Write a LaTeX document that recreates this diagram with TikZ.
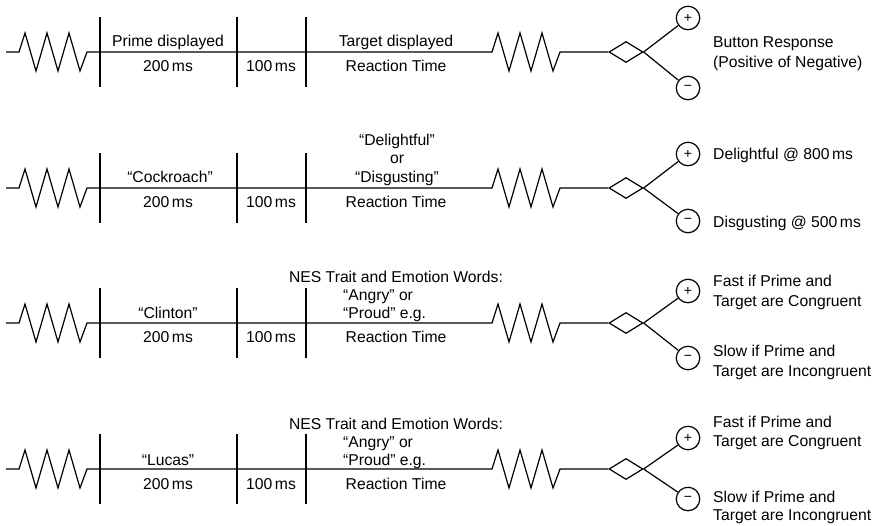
\documentclass[tikz,border=0pt]{standalone}
\usepackage{fontspec}
\setmainfont{Liberation Sans}
\usetikzlibrary{shapes.geometric}
\tikzset{
 ln/.style={line width=1.2pt, line join=miter},
 lbl/.style={font=\fontsize{15.7}{19}\selectfont, inner sep=0pt, anchor=base},
 rlbl/.style={lbl, anchor=base west},
 dia/.style={diamond, draw, line width=1.2pt, minimum width=34pt, minimum height=21pt, inner sep=0pt},
 sgn/.style={circle, draw, line width=1.2pt, minimum size=23.5pt, inner sep=0pt, font=\fontsize{14}{14}\selectfont},
}
\newcommand\tlrow[4]{%
\begin{scope}[shift={(0,#2)}]
\coordinate (#1s) at (6,0);
\coordinate (#1za) at (19,0);
\coordinate (#1zb) at (87,0);
\coordinate (#1zc) at (492,0);
\coordinate (#1zd) at (560,0);
\coordinate (#1at) at (100,-35); \coordinate (#1ab) at (100,35);
\coordinate (#1bt) at (237,-35); \coordinate (#1bb) at (237,35);
\coordinate (#1ct) at (306,-35); \coordinate (#1cb) at (306,35);
\node[dia] (#1d) at (626,0) {};
\node[sgn] (#1p) at (688,#3) {+};
\node[sgn] (#1m) at (688,#4) {−};
\draw[ln] (#1s) -- (#1za) -- ++(6,-19) -- ++(11,38) -- ++(11,-38) -- ++(11,38) -- ++(11,-38) -- ++(11,38) -- (#1zb)
  -- (#1zc) -- ++(6,-19) -- ++(11,38) -- ++(11,-38) -- ++(11,38) -- ++(11,-38) -- ++(11,38) -- (#1zd) -- (#1d.west);
\draw[ln] (#1at) -- (#1ab);
\draw[ln] (#1bt) -- (#1bb);
\draw[ln] (#1ct) -- (#1cb);
\draw[ln] (#1d.east) -- (#1p);
\draw[ln] (#1d.east) -- (#1m);
\end{scope}}
\begin{document}
\begin{tikzpicture}[x=1pt,y=-1pt]
\useasboundingbox (0,0) rectangle (882,525);
\tlrow{r1}{52}{-34}{36}
\tlrow{r2}{188}{-34}{33}
\tlrow{r3}{323}{-32}{35}
\tlrow{r4}{469}{-31}{30}
% row 1
\node[lbl] (l1a) at (168,46) {Prime displayed};
\node[lbl] (l1b) at (168,71) {200\,ms};
\node[lbl] (l1c) at (271,71) {100\,ms};
\node[lbl] (l1d) at (396,46) {Target displayed};
\node[lbl] (l1e) at (396,71) {Reaction Time};
\node[rlbl] (l1f) at (713,47) {Button Response};
\node[rlbl] (l1g) at (713,67) {(Positive of Negative)};
% row 2
\node[lbl] (l2a) at (170,182) {“Cockroach”};
\node[lbl] (l2b) at (168,207) {200\,ms};
\node[lbl] (l2c) at (271,207) {100\,ms};
\node[lbl] (l2d) at (397,145) {“Delightful”};
\node[lbl] (l2e) at (397,163.5) {or};
\node[lbl] (l2f) at (397,182) {“Disgusting”};
\node[lbl] (l2g) at (396,207) {Reaction Time};
\node[rlbl] (l2h) at (713,159) {Delightful @ 800\,ms};
\node[rlbl] (l2i) at (713,227) {Disgusting @ 500\,ms};
% row 3
\node[lbl] (l3a) at (168,318) {“Clinton”};
\node[lbl] (l3b) at (168,342) {200\,ms};
\node[lbl] (l3c) at (271,342) {100\,ms};
\node[lbl] (l3d) at (396,282.5) {NES Trait and Emotion Words:};
\node[rlbl] (l3e) at (343,300.5) {“Angry” or};
\node[rlbl] (l3f) at (343,318.5) {“Proud” e.g.};
\node[lbl] (l3g) at (396,342) {Reaction Time};
\node[rlbl] (l3h) at (713,286) {Fast if Prime and};
\node[rlbl] (l3i) at (713,306) {Target are Congruent};
\node[rlbl] (l3j) at (713,356) {Slow if Prime and};
\node[rlbl] (l3k) at (713,376) {Target are Incongruent};
% row 4
\node[lbl] (l4a) at (168,465) {“Lucas”};
\node[lbl] (l4b) at (168,489) {200\,ms};
\node[lbl] (l4c) at (271,489) {100\,ms};
\node[lbl] (l4d) at (396,429) {NES Trait and Emotion Words:};
\node[rlbl] (l4e) at (343,447) {“Angry” or};
\node[rlbl] (l4f) at (343,465) {“Proud” e.g.};
\node[lbl] (l4g) at (396,489) {Reaction Time};
\node[rlbl] (l4h) at (713,427) {Fast if Prime and};
\node[rlbl] (l4i) at (713,446) {Target are Congruent};
\node[rlbl] (l4j) at (713,502) {Slow if Prime and};
\node[rlbl] (l4k) at (713,520) {Target are Incongruent};
\end{tikzpicture}
\end{document}
